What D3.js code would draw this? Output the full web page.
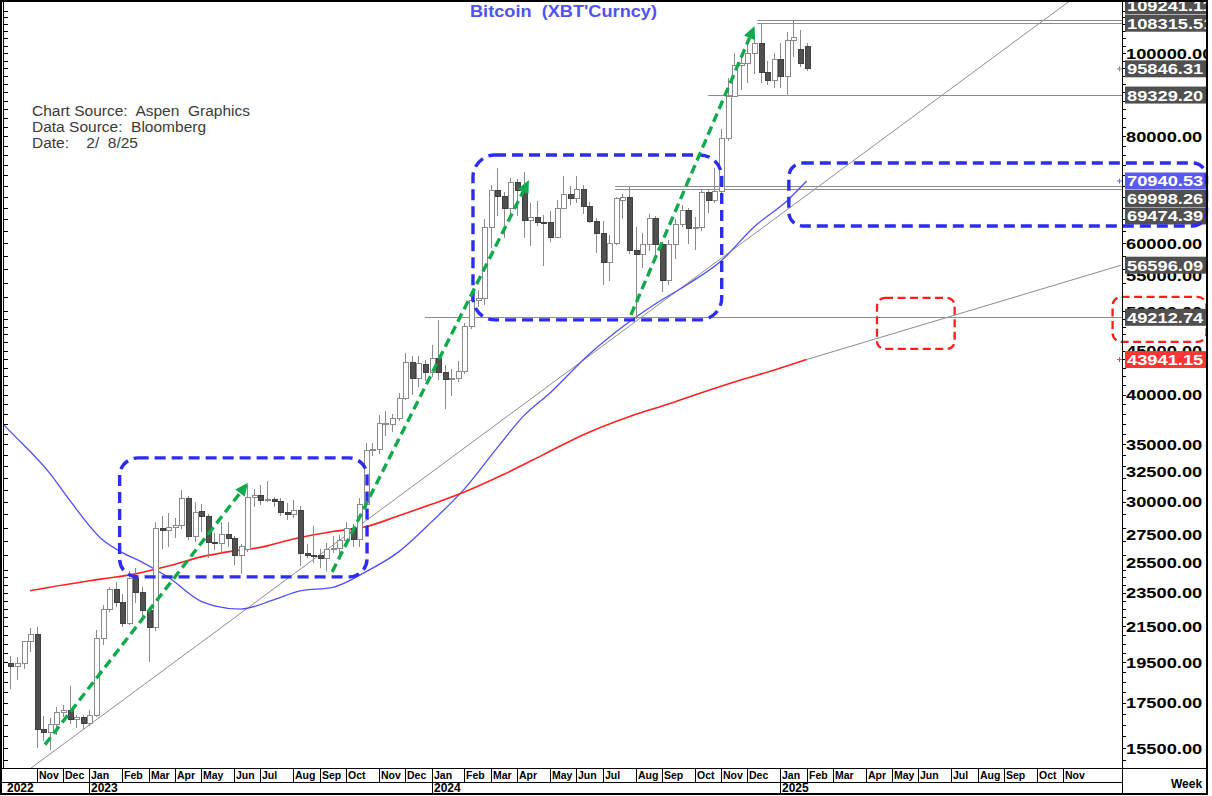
<!DOCTYPE html>
<html><head><meta charset="utf-8">
<script src="https://cdn.jsdelivr.net/npm/d3@7"></script>
<style>
body{margin:0;background:#fff;}
svg{display:block;font-family:Arial,"Liberation Sans",sans-serif;}
text{white-space:pre;}
</style></head><body>
<svg id="chart" width="1212" height="796"></svg>
<script>
// ---------------- DATA ----------------
const firstWeek = "2022-10-10";           // Monday of first weekly bar
const lastWeekIndex = 121;
const opens = [19450,19300,19450,20600,21000,16300,16150,16500,17050,17150,16750,16800,16550,16900,20800,22500,23700,22900,21650,24450,
23500,22400,21400,27900,27800,28000,28150,30250,27300,29200,28850,26900,26850,27500,27200,26000,26400,30350,30550,30100,
30200,30000,29150,29000,29300,26150,26000,25950,25800,26400,26450,27050,27950,27150,29800,34400,34550,36950,36900,37500,
39600,43600,41750,43400,42400,44100,42400,41600,41800,42600,48000,51550,51700,62700,69100,68000,65900,70600,69100,63800,
64400,63500,63400,61000,65900,68500,67600,69400,66300,63600,61600,57000,60000,67400,67800,58900,58300,59800,64100,59800,
54300,59800,63100,65600,62500,62650,68700,67400,69000,79500,89000,96800,97300,99900,102600,94900,92850,98300,94000,103300,
101000,101700];
const highs = [19850,19800,20650,21400,21450,16900,16800,17300,17400,18300,16950,16950,17150,21250,22750,23900,24200,23450,24950,25100,
23850,22600,28400,28850,29150,28750,30950,30500,30000,29850,29050,27600,28400,28400,27400,26800,31400,31050,31350,31700,
30400,30300,29900,30150,29650,26800,28100,26400,26850,27400,27450,28400,28300,30300,35100,35100,37900,38300,38000,40200,
44700,44400,44400,43900,45700,48900,43300,42800,43800,48500,52800,52950,64000,70200,73500,68900,71600,71300,72600,66800,
67200,64700,65400,67400,71900,70000,71900,70100,67000,64300,63700,61400,68000,68500,70000,62700,61700,65000,64500,60300,
60600,64100,66500,66000,64400,69400,69500,73500,81500,93400,99900,99500,102800,105000,108315.51,98000,100000,102800,105900,109241.11,
106400,102600];
const lows = [18150,18600,19150,20050,15520,15800,15430,16050,16850,16550,16350,16300,16450,16850,20450,22350,22650,21450,21550,22850,
21950,19500,21200,26450,26550,27200,27900,27050,26950,27700,25800,26350,26050,26550,25350,24700,26200,29550,29750,29950,
29550,28900,28600,28700,25250,25800,25450,25150,24950,26150,26050,26950,26550,26600,29500,33900,34100,35800,36200,37300,
39400,40000,40800,41500,41900,41600,38500,39800,41400,42300,47700,50600,50900,59300,64600,60900,64500,64600,60800,59600,
62800,56500,60200,60800,65800,66600,66900,65000,63400,58500,53600,54300,59700,64000,58300,49000,56100,58800,57200,52600,
53600,57500,62700,59900,58900,62100,65100,66800,66800,79000,88900,90500,92200,94500,92200,91800,91000,91000,89329.2,99000,
96400,95400];
const closes = [19300,19450,20600,21000,16300,16150,16500,17050,17150,16750,16800,16550,16900,20800,22500,23700,22900,21650,24450,23500,
22400,21400,27900,27800,28000,28150,30250,27300,29150,28850,26900,26850,27500,27200,26000,26600,30350,30550,30100,30200,
30000,29150,29000,29300,26150,26000,25900,25800,26400,26500,27050,27950,27150,29800,34400,34550,37050,37050,37500,39600,
43600,41750,43500,42400,44100,42400,41600,41800,42600,48000,51550,51700,62700,69100,68000,65900,70600,69100,63800,64400,
63400,63400,61000,65900,68500,67600,69400,66300,63600,61600,57000,60000,67600,67800,58900,58300,59800,64100,59800,54300,
59800,63100,65600,62500,62650,68700,67400,69000,79500,89000,96800,97300,99900,102600,94900,92850,98300,94000,103300,104300,
97100,95846.31];

// 200-week moving average (red), read at selected weeks
const maRedWeeks  = [3,6,14,19,24,29,34,38,43,49,54,59,64,69,75,81,87,94,100,105,111,116,121];
const maRedValues = [23630,23860,24400,24730,25250,25880,26300,26550,27150,27700,28060,28900,29800,30800,32300,34050,35900,37700,39000,40200,41600,42700,43941.15];
// projection of the red average
const projWeeks  = [121, 168.8];
const projValues = [43941.15, 56596.09];
// 50-week moving average (blue)
const maBlueWeeks  = [-1,0,6,9,14,17,20,24,29,31,35,40,44,49,54,59,64,69,74,78,82,88,93,98,103,108,113,118,121];
const maBlueValues = [36880,36220,32380,30130,27090,26180,25520,24500,22970,22700,22500,23060,23620,23850,24860,26230,28430,31060,34700,37780,40180,44610,47960,51010,53820,57250,62710,67240,70940.53];
// long support trendline anchors
const trendWeeks  = [5, 95];
const trendValues = [15050, 48650];

// horizontal levels
const levelValues     = [109241.11,108315.51,89329.20,69998.26,69474.39,49212.74];
const levelStartWeeks = [113.5,113.5,106,91.9,91.9,63];

// right-hand value labels
const labelValues = [109241.11,108315.51,95846.31,89329.20,70940.53,69998.26,69474.39,56596.09,49212.74,43941.15];
const labelTexts  = ["109241.11","108315.51","95846.31","89329.20","70940.53","69998.26","69474.39","56596.09","49212.74","43941.15"];
const labelKinds  = ["level","level","last","level","blue","level","level","level","level","red"];
const labelPinned = [false,true,true,true,true,false,false,true,true,true];

// axis tick labels (those visible in the chart)
const tickValues = [15500,17500,19500,21500,23500,25500,27500,30000,32500,35000,40000,45000,50000,55000,60000,80000,100000];

// annotations (week index, price)
const blueBoxes = [
  {w0:16.6, w1:54.2, hi:33750, lo:24530, r:18},
  {w0:70.3, w1:108.1, hi:76070, lo:48870, r:22},
  {w0:118.3, w1:null, hi:74450, lo:62880, r:14}
];
const redBoxes = [
  {w0:131.7, w1:143.5, hi:51840, lo:45210, r:8},
  {w0:167.5, w1:null, hi:52000, lo:46070, r:9}
];
const arrows = [
  {w0:5.25, p0:15640, w1:36.1, p1:31570},
  {w0:48.9, p0:24860, w1:78.8, p1:71130},
  {w0:94.3, p0:49530, w1:113.1, p1:107510}
];

const titleText = "Bitcoin  (XBT'Curncy)";
const infoLines = ["Chart Source:  Aspen  Graphics","Data Source:  Bloomberg","Date:    2/  8/25"];

// ---------------- LAYOUT ----------------
const svg = d3.select("#chart");
const frame = {l:1, t:1, r:1207, b:794};
const plot = {l:3.5, t:2, r:1122, b:768};
const WEEK = 7*864e5;
const t0 = new Date(firstWeek + "T00:00:00Z").getTime();
const x = d3.scaleUtc().domain([new Date(t0), new Date(t0 + lastWeekIndex*WEEK)]).range([10.4, 806.6]);
const xw = w => x(new Date(t0 + w*WEEK));
const y = d3.scaleLog().domain([15500, 100000]).range([748, 53]);

svg.append("rect").attr("width",1212).attr("height",796).attr("fill","#fff");

const defs = svg.append("defs");
defs.append("clipPath").attr("id","plotClip").append("rect")
  .attr("x",plot.l).attr("y",plot.t).attr("width",plot.r-plot.l).attr("height",plot.b-plot.t);
defs.append("clipPath").attr("id","axisClip").append("rect")
  .attr("x",plot.r+1).attr("y",plot.t).attr("width",frame.r-plot.r-1.5).attr("height",plot.b-plot.t);

const gp = svg.append("g").attr("clip-path","url(#plotClip)");

// horizontal level lines
levelValues.forEach((v,i)=>{
  const yy = Math.round(y(v))+0.5;
  gp.append("line").attr("x1",xw(levelStartWeeks[i])).attr("x2",plot.r).attr("y1",yy).attr("y2",yy)
    .attr("stroke","#8c8c8c").attr("stroke-width",1);
});

// trendline (straight in pixel space), extended across the plot
{
  const xa = xw(trendWeeks[0]), ya = y(trendValues[0]);
  const xb = xw(trendWeeks[1]), yb = y(trendValues[1]);
  const s = (yb-ya)/(xb-xa);
  gp.append("line").attr("x1",plot.l).attr("y1",ya+s*(plot.l-xa)).attr("x2",plot.r).attr("y2",ya+s*(plot.r-xa))
    .attr("stroke","#8c8c8c").attr("stroke-width",1);
}
// red projection
gp.append("line").attr("x1",xw(projWeeks[0])).attr("y1",y(projValues[0])).attr("x2",xw(projWeeks[1])).attr("y2",y(projValues[1]))
  .attr("stroke","#8c8c8c").attr("stroke-width",1);

// moving averages
const lineGen = d3.line().curve(d3.curveMonotoneX);
gp.append("path").attr("d", lineGen(maBlueWeeks.map((w,i)=>[xw(w), y(maBlueValues[i])])))
  .attr("fill","none").attr("stroke","#4f4ff5").attr("stroke-width",1.3);
gp.append("path").attr("d", lineGen(maRedWeeks.map((w,i)=>[xw(w), y(maRedValues[i])])))
  .attr("fill","none").attr("stroke","#ff2222").attr("stroke-width",1.6);

// candles
const candles = d3.range(opens.length).map(i=>({i,o:opens[i],h:highs[i],l:lows[i],c:closes[i]}));
const cg = gp.append("g").attr("shape-rendering","crispEdges");
cg.selectAll("line.wick").data(candles).join("line").attr("class","wick")
  .attr("x1",d=>Math.round(xw(d.i))+0.5).attr("x2",d=>Math.round(xw(d.i))+0.5)
  .attr("y1",d=>y(d.h)).attr("y2",d=>y(d.l)).attr("stroke","#8a8a8a").attr("stroke-width",1);
cg.selectAll("rect.body").data(candles).join("rect").attr("class","body")
  .attr("x",d=>Math.round(xw(d.i))-2)
  .attr("y",d=>y(Math.max(d.o,d.c)))
  .attr("width",5)
  .attr("height",d=>Math.max(1.5, y(Math.min(d.o,d.c))-y(Math.max(d.o,d.c))))
  .attr("fill",d=>d.c>=d.o?"#ffffff":"#505050")
  .attr("stroke",d=>d.c>=d.o?"#8a8a8a":"#404040").attr("stroke-width",1);

// ---------------- AXES ----------------
const minorTicks = [];
for (let v=15000; v<=112000; v += (v<25000?500:(v<50000?1000:2000))) {
  const yy = y(v); if (yy>plot.t+1 && yy<plot.b-1) minorTicks.push(yy);
}
const tg = svg.append("g").attr("shape-rendering","crispEdges");
minorTicks.forEach(yy=>{
  tg.append("line").attr("x1",plot.l).attr("x2",plot.l+4).attr("y1",Math.round(yy)+0.5).attr("y2",Math.round(yy)+0.5).attr("stroke","#000");
  tg.append("line").attr("x1",plot.r).attr("x2",plot.r+4).attr("y1",Math.round(yy)+0.5).attr("y2",Math.round(yy)+0.5).attr("stroke","#000");
});

const ga = svg.append("g").attr("clip-path","url(#axisClip)");
const fmt = d3.format(".2f");
tickValues.forEach(v=>{
  ga.append("text").attr("transform",`translate(${plot.r+4},${y(v)+5.5}) scale(1.22,1)`)
    .attr("font-size",15).attr("font-weight","bold").attr("fill","#000").text(fmt(v));
});
const gap = 17.5;
const labs = labelValues.map((v,i)=>({v, t:labelTexts[i], k:labelKinds[i], pin:labelPinned[i], y:y(v)}))
  .sort((a,b)=>a.y-b.y);
for (let i=1;i<labs.length;i++) if(!labs[i].pin && labs[i].y < labs[i-1].y+gap) labs[i].y = labs[i-1].y+gap;
for (let i=labs.length-2;i>=0;i--) if(!labs[i].pin && labs[i].y > labs[i+1].y-gap) labs[i].y = labs[i+1].y-gap;
const kindFill = {level:"#505050", last:"#505050", blue:"#5a5af0", red:"#ff3434"};
labs.forEach(d=>{
  ga.append("rect").attr("x",plot.r+3).attr("y",d.y-8.5).attr("width",95).attr("height",17).attr("fill",kindFill[d.k]);
  ga.append("text").attr("transform",`translate(${plot.r+5},${d.y+5.5}) scale(1.22,1)`)
    .attr("font-size",15).attr("font-weight","bold").attr("fill","#fff").text(d.t);
});
[["last","#888"],["blue","#6a6af0"],["red","#ff4040"]].forEach(([k,col])=>{
  const d = labs.find(l=>l.k===k); const yy = y(d.v);
  svg.append("path").attr("d",`M${plot.r-5},${yy}h5M${plot.r-2.5},${yy-2.5}v5`).attr("stroke",col).attr("stroke-width",1);
});

// ---------------- ANNOTATIONS ----------------
const ann = svg.append("g");
function rbox(b, col, w, dash){
  const x0 = xw(b.w0), x1 = b.w1==null ? frame.r-0.5 : xw(b.w1);
  ann.append("rect").attr("x",x0).attr("y",y(b.hi)).attr("width",x1-x0).attr("height",y(b.lo)-y(b.hi))
    .attr("rx",b.r).attr("ry",b.r).attr("fill","none").attr("stroke",col).attr("stroke-width",w).attr("stroke-dasharray",dash);
}
blueBoxes.forEach(b=>rbox(b,"#2c2cf2",3.4,"11,6"));
redBoxes.forEach(b=>rbox(b,"#ff1c1c",2.3,"8,4.5"));
arrows.forEach(a=>{
  const xa=xw(a.w0), ya=y(a.p0), xb=xw(a.w1), yb=y(a.p1);
  const L=Math.hypot(xb-xa,yb-ya), ux=(xb-xa)/L, uy=(yb-ya)/L, px=-uy, py=ux;
  const hl=13, hw=6;
  ann.append("line").attr("x1",xa).attr("y1",ya).attr("x2",xb-ux*hl).attr("y2",yb-uy*hl)
    .attr("stroke","#10aa4c").attr("stroke-width",3.4).attr("stroke-dasharray","9,5");
  ann.append("path").attr("d",`M${xb},${yb}L${xb-ux*hl+px*hw},${yb-uy*hl+py*hw}L${xb-ux*hl-px*hw},${yb-uy*hl-py*hw}Z`)
    .attr("fill","#10aa4c");
});

// ---------------- TEXT ----------------
svg.append("text").attr("x",470).attr("y",17).attr("font-size",17).attr("font-weight","bold")
  .attr("textLength",187).attr("lengthAdjust","spacingAndGlyphs")
  .attr("fill","#5252ee").text(titleText);
infoLines.forEach((t,i)=>{
  svg.append("text").attr("x",32).attr("y",116+i*16).attr("font-size",15.5).attr("fill","#3a3a3a").text(t);
});

// ---------------- FRAME & X AXIS ----------------
const fg = svg.append("g").attr("shape-rendering","crispEdges").attr("stroke","#000");
fg.append("line").attr("x1",plot.l).attr("x2",plot.l).attr("y1",frame.t).attr("y2",plot.b).attr("stroke-width",1.5);
fg.append("line").attr("x1",plot.r+0.5).attr("x2",plot.r+0.5).attr("y1",frame.t).attr("y2",frame.b).attr("stroke-width",1);
fg.append("line").attr("x1",frame.l).attr("x2",frame.r).attr("y1",plot.b+0.5).attr("y2",plot.b+0.5).attr("stroke-width",1);
fg.append("line").attr("x1",frame.l).attr("x2",plot.r).attr("y1",782.5).attr("y2",782.5).attr("stroke-width",1);
fg.append("rect").attr("x",frame.l).attr("y",frame.t).attr("width",frame.r-frame.l).attr("height",frame.b-frame.t)
  .attr("fill","none").attr("stroke-width",2);

const months = d3.utcMonth.range(new Date(Date.UTC(2022,10,1)), new Date(Date.UTC(2025,11,1)));
const mfmt = d3.utcFormat("%b");
months.forEach(m=>{
  const fm = d3.utcMonday.ceil(m);
  const xx = Math.round(x(fm))+0.5;
  fg.append("line").attr("x1",xx).attr("x2",xx).attr("y1",plot.b).attr("y2",m.getUTCMonth()===0?frame.b:782.5);
  svg.append("text").attr("x",xx+1.5).attr("y",779).attr("font-size",10.5).attr("font-weight","bold").text(mfmt(m));
  if (m.getUTCMonth()===0)
    svg.append("text").attr("x",xx+1.5).attr("y",792).attr("font-size",12).attr("font-weight","bold").text(m.getUTCFullYear());
});
svg.append("text").attr("x",7).attr("y",792).attr("font-size",12).attr("font-weight","bold").text("2022");
svg.append("text").attr("x",1171).attr("y",788).attr("font-size",12).attr("font-weight","bold").text("Week");
</script>
</body></html>
